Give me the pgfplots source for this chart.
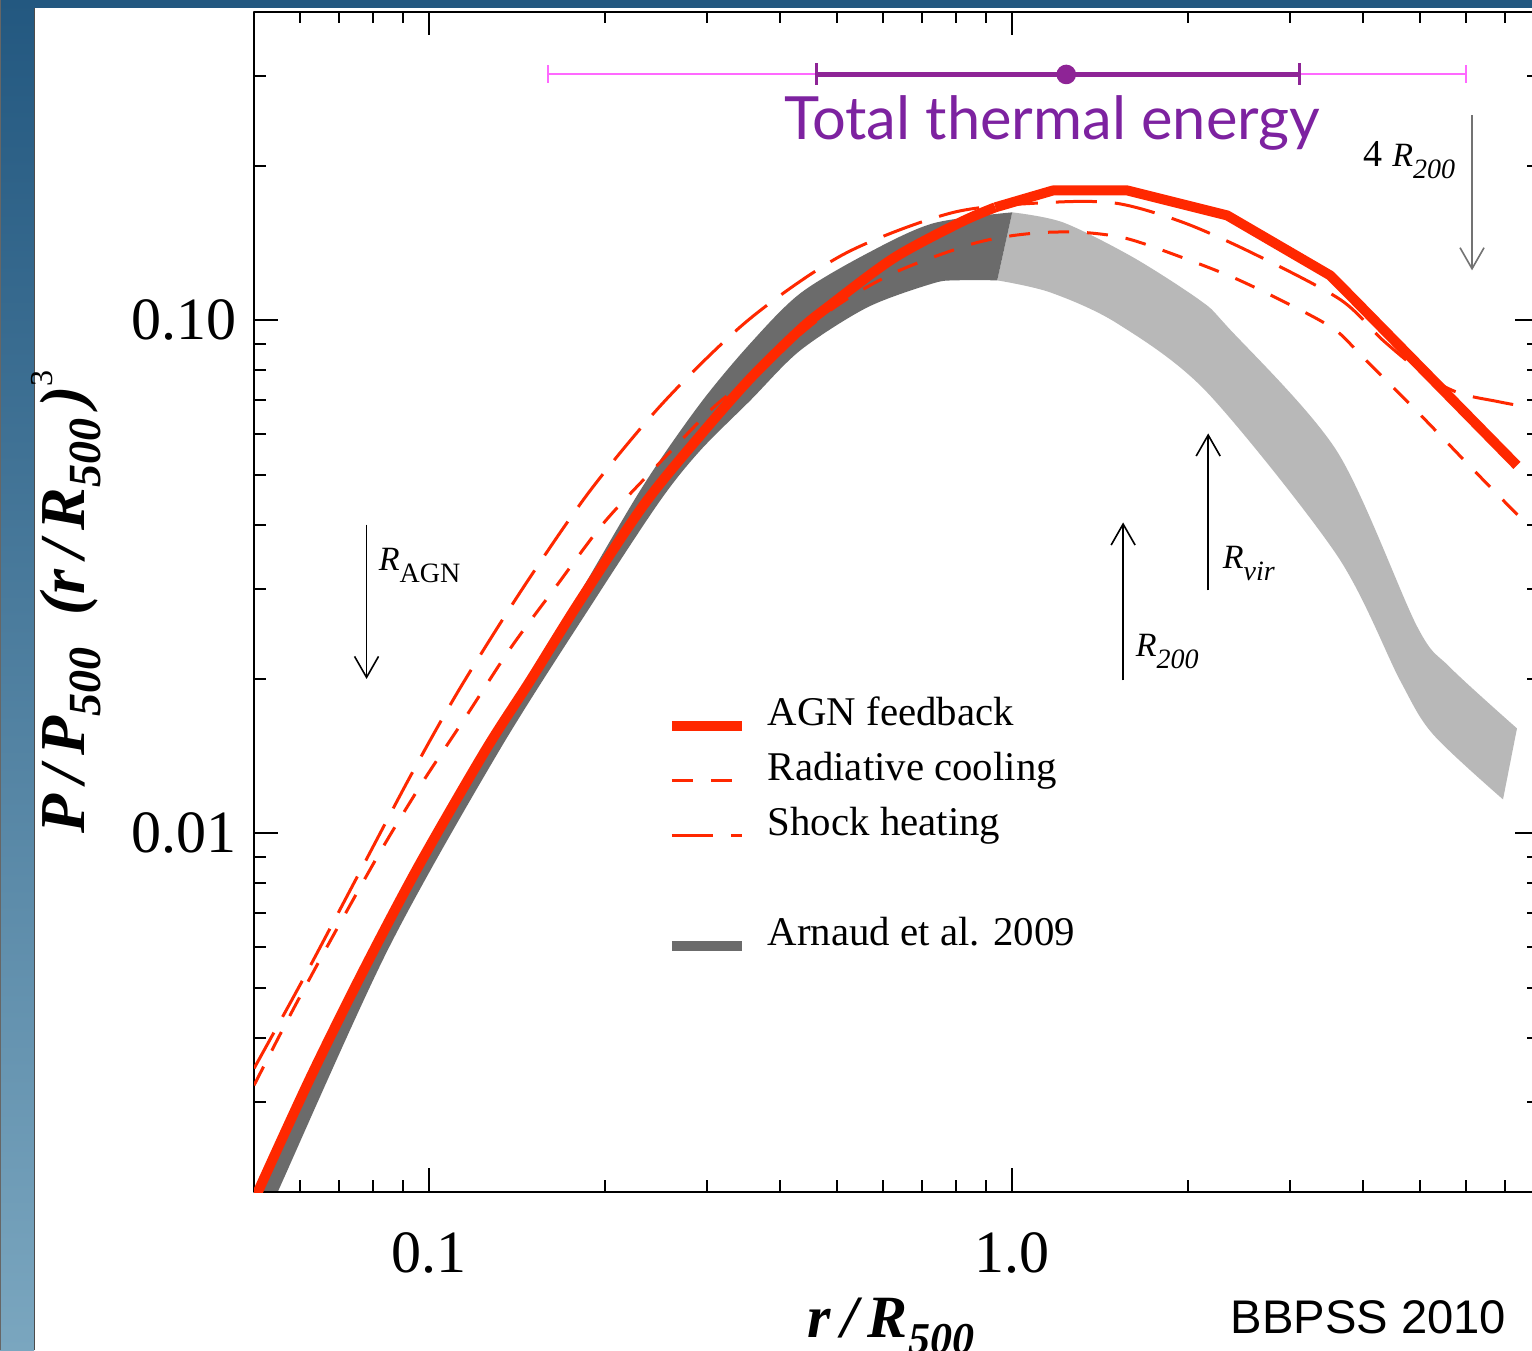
\documentclass[border=0pt]{standalone}
\usepackage{fontspec}
\setmainfont{Liberation Serif}
\newfontfamily\helv{Liberation Sans}
\newfontfamily\gill{Lato}
\usepackage{pgfplots}
\pgfplotsset{compat=1.18}
\usepgfplotslibrary{fillbetween}
\usetikzlibrary{arrows.meta}

\definecolor{simred}{RGB}{255,40,0}
\definecolor{arnaudA}{RGB}{107,107,107}
\definecolor{arnaudB}{RGB}{184,184,184}
\definecolor{thermal}{RGB}{142,36,150}
\definecolor{thermaltxt}{RGB}{125,34,160}
\definecolor{thermalpink}{RGB}{255,105,255}
\definecolor{frameblue}{RGB}{35,88,128}
\definecolor{framelight}{RGB}{122,166,191}

% a bottom layer for the slide frame, below everything pgfplots draws
\pgfdeclarelayer{frame}
\pgfplotsset{
  layers/framed/.define layer set={frame,axis background,axis grid,axis ticks,axis lines,axis tick labels,pre main,main,axis descriptions,axis foreground}{},
}

% radius label: italic R with a lowered subscript
\newcommand{\rlab}[1]{{\fontsize{8.5}{9}\selectfont\itshape R\raisebox{-3.2pt}{\fontsize{7}{7}\selectfont #1}}}

\begin{document}
\begin{tikzpicture}
\begin{axis}[
  set layers=framed,
  at={(63.5pt,-298pt)}, anchor=south west,
  scale only axis, width=321.125pt, height=295.125pt,
  xmode=log, ymode=log,
  xmin=0.05, xmax=8, ymin=0.002, ymax=0.4,
  axis line style={line width=0.5pt},
  xtick={0.1,1}, xticklabels={0.1,1.0},
  ytick={0.01,0.1}, yticklabels={0.01,0.10},
  minor xtick={0.06,0.07,0.08,0.09,0.2,0.3,0.4,0.5,0.6,0.7,0.8,0.9,2,3,4,5,6,7},
  minor ytick={0.003,0.004,0.005,0.006,0.007,0.008,0.009,0.02,0.03,0.04,0.05,0.06,0.07,0.08,0.09,0.2,0.3},
  tick align=inside,
  major tick length=6pt, minor tick length=3pt,
  every tick/.style={black, line width=0.5pt},
  tick label style={font=\fontsize{15}{15}\selectfont},
  xticklabel style={anchor=north, inner sep=0pt, yshift=-10pt},
  yticklabel style={anchor=east, inner sep=0pt, xshift=-4.25pt},
  /pgf/number format/assume math mode=true,
  legend style={at={(0.3208,0.4261)}, anchor=north west, draw=none, fill=none,
    inner sep=0pt, font=\fontsize{10.2}{12}\selectfont,
    nodes={inner sep=0pt, text height=9pt, text depth=4.75pt},
    cells={anchor=base west}, row sep=0pt},
  legend image code/.code={\draw[#1] (0pt,0pt) -- (17.5pt,0pt); \path[draw=none] (0pt,0pt) -- (24pt,0pt);},
  line join=round,
]
% legend entries
\addlegendimage{simred, line width=2.5pt}
\addlegendentry{AGN feedback}
\addlegendimage{simred, line width=0.75pt, dash pattern=on 5.25pt off 4.5pt}
\addlegendentry{Radiative cooling}
\addlegendimage{simred, line width=0.75pt, dash pattern=on 10.25pt off 4.5pt}
\addlegendentry{Shock heating}
\addlegendimage{empty legend}
\addlegendentry{}
\addlegendimage{arnaudA, line width=2.5pt}
\addlegendentry{Arnaud et al. 2009}

% Arnaud et al. 2009 band, beyond R500 (extrapolated)
\addplot[name path=outerup, smooth, draw=none, forget plot] coordinates {
  (1.0,0.1624) (1.2231,0.1552) (1.6124,0.1327) (2.101,0.1094) (2.338,0.09734)
  (3.610,0.05553) (4.951,0.02532) (5.640,0.02107) (7.348,0.01602)
};
\addplot[name path=outerlo, smooth, draw=none, forget plot] coordinates {
  (0.9425,0.1197) (1.162,0.1134) (1.514,0.09866) (2.160,0.07240)
  (3.610,0.03482) (4.630,0.01987) (5.274,0.01560) (6.953,0.01165)
};
\addplot[fill=arnaudB, draw=none, forget plot] fill between[of=outerup and outerlo];
% Arnaud et al. 2009 band, within R500
\addplot[name path=innerup, smooth, draw=none, forget plot] coordinates {
  (0.0493,0.001824) (0.0802,0.005861) (0.1248,0.01438) (0.1801,0.02910)
  (0.2329,0.04770) (0.2916,0.06889) (0.3553,0.09018) (0.4328,0.1129)
  (0.5640,0.1351) (0.7317,0.1546) (1.0,0.1624)
};
\addplot[name path=innerlo, smooth, draw=none, forget plot] coordinates {
  (0.05294,0.001824) (0.05486,0.001996) (0.08472,0.005912) (0.1318,0.01451)
  (0.1919,0.02846) (0.2490,0.04458) (0.2916,0.05579) (0.3553,0.06982)
  (0.4328,0.0874) (0.5640,0.1060) (0.7317,0.1181) (0.8049,0.1197) (0.9425,0.1197)
};
\addplot[fill=arnaudA, draw=none, forget plot] fill between[of=innerup and innerlo];

% AGN feedback: rising part
\addplot[simred, line width=2.5pt, smooth, forget plot] coordinates {
  (0.0495,0.00187) (0.0509,0.002014) (0.06251,0.003345) (0.07705,0.005405)
  (0.09574,0.008625) (0.12476,0.014514) (0.14899,0.01987) (0.18009,0.02808)
  (0.23286,0.04359) (0.2916,0.05968) (0.3553,0.07707) (0.4329,0.09605)
  (0.4816,0.1060) (0.6251,0.1321) (0.8143,0.15524) (0.9350,0.16609)
};
% AGN feedback: plateau and outer decline
\addplot[simred, line width=2.5pt, forget plot] coordinates {
  (0.9350,0.16609) (1.1755,0.17922)
  (1.5748,0.17922) (2.338,0.1602) (3.512,0.12239) (3.800,0.11186) (7.348,0.05215)
};
% Radiative cooling
\addplot[simred, line width=0.75pt, smooth, dash pattern=on 5.25pt off 4.5pt, forget plot] coordinates {
  (0.05,0.003228) (0.05776,0.004438) (0.06765,0.006185) (0.08241,0.009225)
  (0.09727,0.012571) (0.11527,0.016831) (0.13767,0.02294) (0.16447,0.030164)
  (0.19884,0.04021) (0.24414,0.0517) (0.3034,0.06677) (0.3443,0.07537)
  (0.4873,0.10459) (0.6300,0.12406) (0.8372,0.14) (0.9804,0.14578)
  (1.139,0.14842) (1.3237,0.14842) (1.5438,0.14514) (1.7943,0.13751)
  (2.3933,0.12128) (3.1557,0.10412) (3.610,0.09519) (4.000,0.08471)
  (4.951,0.06646) (6.152,0.05146) (7.378,0.04168)
};
% Shock heating
\addplot[simred, line width=0.75pt, smooth, dash pattern=on 10.25pt off 4.5pt, forget plot] coordinates {
  (0.05,0.003482) (0.06056,0.00517) (0.07525,0.008246) (0.0935,0.013149)
  (0.11304,0.019256) (0.14493,0.030164) (0.18887,0.046633) (0.2540,0.06984)
  (0.3553,0.1009) (0.5171,0.13507) (0.7920,0.16234) (1.1621,0.16982)
  (1.5136,0.16907) (1.9649,0.15524) (2.5906,0.13507) (3.6523,0.10987)
  (4.329,0.09141) (5.150,0.07778) (5.867,0.07206) (6.791,0.06952) (7.378,0.06828)
};

% total thermal energy: median with inner and outer ranges
\addplot[thermalpink, line width=0.5pt, mark=|, mark size=2.25pt,
  mark options={line width=0.5pt}, forget plot] coordinates {(0.16,0.3016) (6.006,0.3016)};
\addplot[thermal, line width=1.1pt, mark=|, mark size=2.75pt,
  mark options={line width=0.75pt}, forget plot] coordinates {(0.4611,0.3016) (3.106,0.3016)};
\addplot[thermal, only marks, mark=*, mark size=2.25pt, forget plot] coordinates {(1.238,0.3016)};
\node[text=thermaltxt, font=\gill\fontsize{14.9}{16}\selectfont, inner sep=0pt]
  at (axis cs:1.171,0.2421) {Total thermal energy};

% characteristic radii
\addplot[black, line width=0.4pt, -{Straight Barb[length=5.25pt,width=6pt]}, forget plot]
  coordinates {(0.078,0.0400) (0.078,0.0200)};
\addplot[black, line width=0.4pt, -{Straight Barb[length=5.25pt,width=6pt]}, forget plot]
  coordinates {(1.55,0.01987) (1.55,0.04038)};
\addplot[black, line width=0.4pt, -{Straight Barb[length=5.25pt,width=6pt]}, forget plot]
  coordinates {(2.169,0.02977) (2.169,0.06021)};
\addplot[black!55, line width=0.4pt, -{Straight Barb[length=5.25pt,width=6pt]}, forget plot]
  coordinates {(6.152,0.2509) (6.152,0.1252)};
\end{axis}

\begin{scope}[x=0.25pt,y=-0.25pt]
% slide frame (units of 0.25pt, origin top left)
\begin{pgfonlayer}{frame}
\fill[white] (0,0) rectangle (1532,1350);
\shade[top color=frameblue, bottom color=framelight] (0,0) rectangle (34,1350);
\fill[frameblue] (0,0) rectangle (1532,8);
\draw[black!70, line width=0.4pt] (34.5,8) -- (34.5,1350);
\draw[black!60, line width=0.4pt] (0.5,0) -- (0.5,1350);
\end{pgfonlayer}

% radius labels
\node[anchor=base west, inner sep=0pt] at (378,570) {\rlab{\upshape AGN}};
\node[anchor=base west, inner sep=0pt] at (1222,568) {\rlab{vir}};
\node[anchor=base west, inner sep=0pt] at (1135,656) {\rlab{200}};
\node[anchor=base east, inner sep=0pt] at (1456,166) {{\fontsize{9.5}{10}\selectfont 4 }\rlab{200}};

% axis titles
\node[anchor=base, inner sep=0pt] at (891,1337)
  {\fontsize{15}{15}\selectfont\bfseries\itshape r\,/\,R\raisebox{-4pt}{\fontsize{11}{11}\selectfont 500}};
\node[anchor=base, inner sep=0pt, rotate=90] at (84,602)
  {\fontsize{16}{16}\selectfont\bfseries\itshape P\,/\,P\raisebox{-4pt}{\fontsize{11.5}{11}\selectfont 500}\ \ (r\,/\,R\raisebox{-4pt}{\fontsize{11.5}{11}\selectfont 500}\,)\raisebox{8pt}{\fontsize{8}{8}\selectfont\upshape\mdseries 3}};

% credit
\node[anchor=base east, inner sep=0pt, font=\helv\fontsize{11.8}{12}\selectfont] at (1507,1333) {BBPSS 2010};

\pgfresetboundingbox
\path[use as bounding box] (0,0) rectangle (1532,1350);
\end{scope}
\end{tikzpicture}
\end{document}
